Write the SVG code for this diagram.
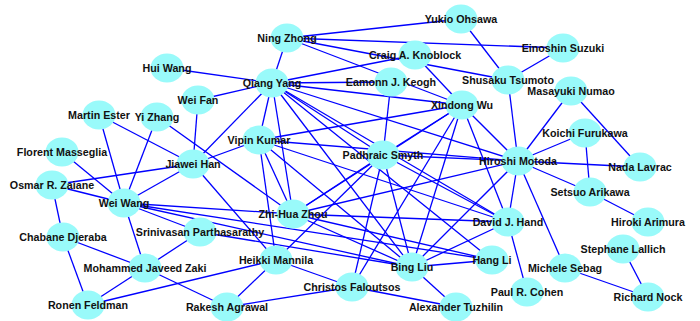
<svg xmlns="http://www.w3.org/2000/svg" width="700" height="321" viewBox="0 0 700 321">
<style>
.e line{stroke:#0000ff;stroke-width:1.3}
.n ellipse{fill:#99fafa}
.n text{font-family:"Liberation Sans",Arial,sans-serif;font-weight:bold;font-size:10.7px;text-anchor:middle;fill:#111}
</style>
<rect width="700" height="321" fill="#fff"/>
<g id="edges" class="e">
<line x1="287" y1="38" x2="461" y2="19"/>
<line x1="287" y1="38" x2="563" y2="48"/>
<line x1="287" y1="38" x2="508" y2="80"/>
<line x1="287" y1="38" x2="462" y2="105"/>
<line x1="287" y1="38" x2="272" y2="83"/>
<line x1="461" y1="19" x2="508" y2="80"/>
<line x1="563" y1="48" x2="508" y2="80"/>
<line x1="415" y1="55" x2="272" y2="83"/>
<line x1="415" y1="55" x2="462" y2="105"/>
<line x1="272" y1="83" x2="167" y2="68"/>
<line x1="272" y1="83" x2="198" y2="100"/>
<line x1="272" y1="83" x2="391" y2="82"/>
<line x1="272" y1="83" x2="462" y2="105"/>
<line x1="272" y1="83" x2="518" y2="161"/>
<line x1="272" y1="83" x2="259" y2="140"/>
<line x1="272" y1="83" x2="193" y2="164"/>
<line x1="272" y1="83" x2="293" y2="214"/>
<line x1="272" y1="83" x2="412" y2="267"/>
<line x1="272" y1="83" x2="508" y2="222"/>
<line x1="272" y1="83" x2="383" y2="155"/>
<line x1="272" y1="83" x2="492" y2="260"/>
<line x1="508" y1="80" x2="518" y2="161"/>
<line x1="571" y1="91" x2="518" y2="161"/>
<line x1="571" y1="91" x2="640" y2="167"/>
<line x1="585" y1="133" x2="518" y2="161"/>
<line x1="585" y1="133" x2="590" y2="192"/>
<line x1="518" y1="161" x2="640" y2="167"/>
<line x1="518" y1="161" x2="590" y2="192"/>
<line x1="590" y1="192" x2="648" y2="222"/>
<line x1="623" y1="249" x2="648" y2="297"/>
<line x1="565" y1="268" x2="648" y2="297"/>
<line x1="518" y1="161" x2="565" y2="268"/>
<line x1="518" y1="161" x2="508" y2="222"/>
<line x1="518" y1="161" x2="412" y2="267"/>
<line x1="518" y1="161" x2="293" y2="214"/>
<line x1="518" y1="161" x2="462" y2="105"/>
<line x1="518" y1="161" x2="259" y2="140"/>
<line x1="518" y1="161" x2="383" y2="155"/>
<line x1="508" y1="222" x2="527" y2="292"/>
<line x1="508" y1="222" x2="412" y2="267"/>
<line x1="412" y1="267" x2="492" y2="260"/>
<line x1="412" y1="267" x2="456" y2="307"/>
<line x1="352" y1="287" x2="456" y2="307"/>
<line x1="352" y1="287" x2="227" y2="307"/>
<line x1="352" y1="287" x2="276" y2="260"/>
<line x1="276" y1="260" x2="227" y2="307"/>
<line x1="276" y1="260" x2="88" y2="305"/>
<line x1="276" y1="260" x2="193" y2="164"/>
<line x1="276" y1="260" x2="259" y2="140"/>
<line x1="276" y1="260" x2="383" y2="155"/>
<line x1="462" y1="105" x2="259" y2="140"/>
<line x1="462" y1="105" x2="383" y2="155"/>
<line x1="462" y1="105" x2="412" y2="267"/>
<line x1="462" y1="105" x2="508" y2="222"/>
<line x1="462" y1="105" x2="293" y2="214"/>
<line x1="462" y1="105" x2="352" y2="287"/>
<line x1="259" y1="140" x2="193" y2="164"/>
<line x1="259" y1="140" x2="293" y2="214"/>
<line x1="259" y1="140" x2="412" y2="267"/>
<line x1="259" y1="140" x2="508" y2="222"/>
<line x1="383" y1="155" x2="391" y2="82"/>
<line x1="383" y1="155" x2="293" y2="214"/>
<line x1="383" y1="155" x2="352" y2="287"/>
<line x1="383" y1="155" x2="508" y2="222"/>
<line x1="383" y1="155" x2="412" y2="267"/>
<line x1="293" y1="214" x2="157" y2="117"/>
<line x1="293" y1="214" x2="124" y2="203"/>
<line x1="293" y1="214" x2="508" y2="222"/>
<line x1="293" y1="214" x2="412" y2="267"/>
<line x1="293" y1="214" x2="492" y2="260"/>
<line x1="99" y1="115" x2="124" y2="203"/>
<line x1="99" y1="115" x2="193" y2="164"/>
<line x1="157" y1="117" x2="124" y2="203"/>
<line x1="198" y1="100" x2="193" y2="164"/>
<line x1="62" y1="152" x2="124" y2="203"/>
<line x1="52" y1="185" x2="124" y2="203"/>
<line x1="52" y1="185" x2="193" y2="164"/>
<line x1="52" y1="185" x2="63" y2="237"/>
<line x1="193" y1="164" x2="124" y2="203"/>
<line x1="124" y1="203" x2="200" y2="232"/>
<line x1="124" y1="203" x2="145" y2="268"/>
<line x1="124" y1="203" x2="412" y2="267"/>
<line x1="124" y1="203" x2="492" y2="260"/>
<line x1="200" y1="232" x2="145" y2="268"/>
<line x1="200" y1="232" x2="412" y2="267"/>
<line x1="63" y1="237" x2="88" y2="305"/>
<line x1="63" y1="237" x2="145" y2="268"/>
<line x1="145" y1="268" x2="88" y2="305"/>
<line x1="145" y1="268" x2="227" y2="307"/>
</g>
<g id="n-yo" class="n"><ellipse cx="461" cy="19" rx="16.5" ry="14.5"/><text x="461" y="23">Yukio Ohsawa</text></g>
<g id="n-nz" class="n"><ellipse cx="287" cy="38" rx="16.5" ry="14.5"/><text x="287" y="42">Ning Zhong</text></g>
<g id="n-es" class="n"><ellipse cx="563" cy="48" rx="16.5" ry="14.5"/><text x="563" y="52">Einoshin Suzuki</text></g>
<g id="n-ck" class="n"><ellipse cx="415" cy="55" rx="16.5" ry="14.5"/><text x="415" y="59">Craig A. Knoblock</text></g>
<g id="n-hw" class="n"><ellipse cx="167" cy="68" rx="16.5" ry="14.5"/><text x="167" y="72">Hui Wang</text></g>
<g id="n-qy" class="n"><ellipse cx="272" cy="83" rx="16.5" ry="14.5"/><text x="272" y="87">Qiang Yang</text></g>
<g id="n-ek" class="n"><ellipse cx="391" cy="82" rx="16.5" ry="14.5"/><text x="391" y="86">Eamonn J. Keogh</text></g>
<g id="n-st" class="n"><ellipse cx="508" cy="80" rx="16.5" ry="14.5"/><text x="508" y="84">Shusaku Tsumoto</text></g>
<g id="n-mn" class="n"><ellipse cx="571" cy="91" rx="16.5" ry="14.5"/><text x="571" y="95">Masayuki Numao</text></g>
<g id="n-wf" class="n"><ellipse cx="198" cy="100" rx="16.5" ry="14.5"/><text x="198" y="104">Wei Fan</text></g>
<g id="n-xw" class="n"><ellipse cx="462" cy="105" rx="16.5" ry="14.5"/><text x="462" y="109">Xindong Wu</text></g>
<g id="n-me" class="n"><ellipse cx="99" cy="115" rx="16.5" ry="14.5"/><text x="99" y="119">Martin Ester</text></g>
<g id="n-yz" class="n"><ellipse cx="157" cy="117" rx="16.5" ry="14.5"/><text x="157" y="121">Yi Zhang</text></g>
<g id="n-kf" class="n"><ellipse cx="585" cy="133" rx="16.5" ry="14.5"/><text x="585" y="137">Koichi Furukawa</text></g>
<g id="n-vk" class="n"><ellipse cx="259" cy="140" rx="16.5" ry="14.5"/><text x="259" y="144">Vipin Kumar</text></g>
<g id="n-fm" class="n"><ellipse cx="62" cy="152" rx="16.5" ry="14.5"/><text x="62" y="156">Florent Masseglia</text></g>
<g id="n-ps" class="n"><ellipse cx="383" cy="155" rx="16.5" ry="14.5"/><text x="383" y="159">Padhraic Smyth</text></g>
<g id="n-hm" class="n"><ellipse cx="518" cy="161" rx="16.5" ry="14.5"/><text x="518" y="165">Hiroshi Motoda</text></g>
<g id="n-jh" class="n"><ellipse cx="193" cy="164" rx="16.5" ry="14.5"/><text x="193" y="168">Jiawei Han</text></g>
<g id="n-nl" class="n"><ellipse cx="640" cy="167" rx="16.5" ry="14.5"/><text x="640" y="171">Nada Lavrac</text></g>
<g id="n-oz" class="n"><ellipse cx="52" cy="185" rx="16.5" ry="14.5"/><text x="52" y="189">Osmar R. Zaiane</text></g>
<g id="n-sa" class="n"><ellipse cx="590" cy="192" rx="16.5" ry="14.5"/><text x="590" y="196">Setsuo Arikawa</text></g>
<g id="n-ww" class="n"><ellipse cx="124" cy="203" rx="16.5" ry="14.5"/><text x="124" y="207">Wei Wang</text></g>
<g id="n-zz" class="n"><ellipse cx="293" cy="214" rx="16.5" ry="14.5"/><text x="293" y="218">Zhi-Hua Zhou</text></g>
<g id="n-dh" class="n"><ellipse cx="508" cy="222" rx="16.5" ry="14.5"/><text x="508" y="226">David J. Hand</text></g>
<g id="n-ha" class="n"><ellipse cx="648" cy="222" rx="16.5" ry="14.5"/><text x="648" y="226">Hiroki Arimura</text></g>
<g id="n-sp" class="n"><ellipse cx="200" cy="232" rx="16.5" ry="14.5"/><text x="200" y="236">Srinivasan Parthasarathy</text></g>
<g id="n-cd" class="n"><ellipse cx="63" cy="237" rx="16.5" ry="14.5"/><text x="63" y="241">Chabane Djeraba</text></g>
<g id="n-sl" class="n"><ellipse cx="623" cy="249" rx="16.5" ry="14.5"/><text x="623" y="253">Stephane Lallich</text></g>
<g id="n-hk" class="n"><ellipse cx="276" cy="260" rx="16.5" ry="14.5"/><text x="276" y="264">Heikki Mannila</text></g>
<g id="n-hl" class="n"><ellipse cx="492" cy="260" rx="16.5" ry="14.5"/><text x="492" y="264">Hang Li</text></g>
<g id="n-bl" class="n"><ellipse cx="412" cy="267" rx="16.5" ry="14.5"/><text x="412" y="271">Bing Liu</text></g>
<g id="n-mz" class="n"><ellipse cx="145" cy="268" rx="16.5" ry="14.5"/><text x="145" y="272">Mohammed Javeed Zaki</text></g>
<g id="n-ms" class="n"><ellipse cx="565" cy="268" rx="16.5" ry="14.5"/><text x="565" y="272">Michele Sebag</text></g>
<g id="n-cf" class="n"><ellipse cx="352" cy="287" rx="16.5" ry="14.5"/><text x="352" y="291">Christos Faloutsos</text></g>
<g id="n-pc" class="n"><ellipse cx="527" cy="292" rx="16.5" ry="14.5"/><text x="527" y="296">Paul R. Cohen</text></g>
<g id="n-rn" class="n"><ellipse cx="648" cy="297" rx="16.5" ry="14.5"/><text x="648" y="301">Richard Nock</text></g>
<g id="n-rf" class="n"><ellipse cx="88" cy="305" rx="16.5" ry="14.5"/><text x="88" y="309">Ronen Feldman</text></g>
<g id="n-ra" class="n"><ellipse cx="227" cy="307" rx="16.5" ry="14.5"/><text x="227" y="311">Rakesh Agrawal</text></g>
<g id="n-at" class="n"><ellipse cx="456" cy="307" rx="16.5" ry="14.5"/><text x="456" y="311">Alexander Tuzhilin</text></g>
</svg>
